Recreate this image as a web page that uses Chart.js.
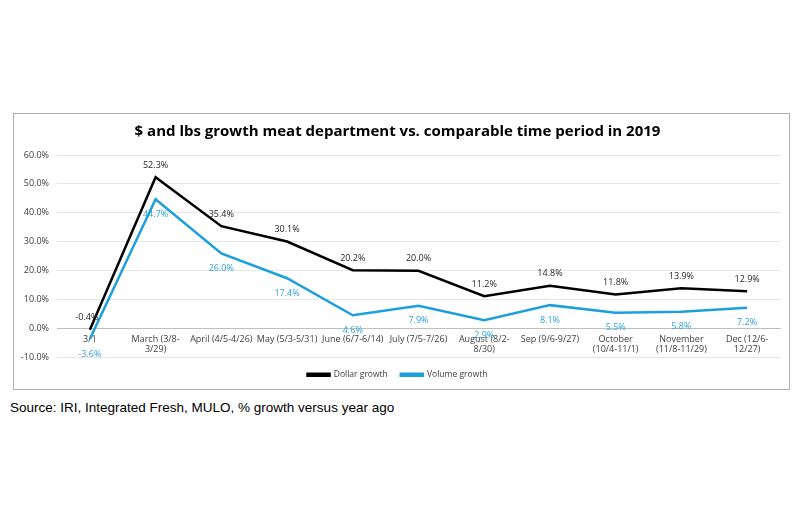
<!DOCTYPE html>
<html><head><meta charset="utf-8">
<script src="https://cdn.jsdelivr.net/npm/chart.js@4/dist/chart.umd.min.js"></script>
<style>
html,body{margin:0;padding:0;background:#fff;width:800px;height:528px;overflow:hidden;}
#box{position:absolute;left:13px;top:113px;width:775px;height:275px;border:1px solid #b0b0b0;background:#fff;}
#src{position:absolute;left:10px;top:400px;font-family:"Liberation Sans",Arial,sans-serif;font-size:13.5px;color:#000;}
</style></head>
<body>
<div id="box"><canvas id="c" width="775" height="275"></canvas></div>
<div id="src">Source: IRI, Integrated Fresh, MULO, % growth versus year ago</div>
<script>
const categories = ["3/1", ["March (3/8-","3/29)"], "April (4/5-4/26)", "May (5/3-5/31)", "June (6/7-6/14)", "July (7/5-7/26)", ["August (8/2-","8/30)"], "Sep (9/6-9/27)", ["October","(10/4-11/1)"], ["November","(11/8-11/29)"], ["Dec (12/6-","12/27)"]];
const dollarGrowth = [-0.4, 52.3, 35.4, 30.1, 20.2, 20.0, 11.2, 14.8, 11.8, 13.9, 12.9];
const volumeGrowth = [-3.6, 44.7, 26.0, 17.4, 4.6, 7.9, 2.9, 8.1, 5.5, 5.8, 7.2];
const yTicks = [-10, 0, 10, 20, 30, 40, 50, 60];

const FONT = '"Open Sans","Liberation Sans",sans-serif';
const labelPlugin = {
  id: 'labels',
  afterDatasetsDraw(chart) {
    const ctx = chart.ctx;
    ctx.save();
    ctx.font = '9px ' + FONT;
    ctx.textAlign = 'center';
    ctx.textBaseline = 'middle';
    chart.data.datasets.forEach((ds, i) => {
      const meta = chart.getDatasetMeta(i);
      meta.data.forEach((pt, j) => {
        const v = ds.data[j];
        ctx.fillStyle = i === 0 ? '#262626' : '#2ea3dc';
        const dy = i === 0 ? -12 : 15;
        ctx.fillText(v.toFixed(1) + '%', pt.x - (i===0 && j===0 ? 3 : 0), pt.y + dy);
      });
    });
    ctx.restore();
  }
};

new Chart(document.getElementById('c'), {
  type: 'line',
  data: {
    labels: categories,
    datasets: [
      { label: 'Dollar growth', data: dollarGrowth, borderColor: '#000000', backgroundColor: '#000000', borderWidth: 2.5, pointRadius: 0, tension: 0 },
      { label: 'Volume growth', data: volumeGrowth, borderColor: '#1ca0dd', backgroundColor: '#1ca0dd', borderWidth: 2.5, pointRadius: 0, tension: 0 }
    ]
  },
  options: {
    responsive: false,
    animation: false,
    layout: { padding: { left: 1, right: 9, top: 2, bottom: 0 } },
    plugins: {
      title: { display: true, text: '$ and lbs growth meat department vs. comparable time period in 2019', color: '#000', font: { family: FONT, size: 15, weight: 'bold' }, padding: { top: 7, bottom: 14 } },
      legend: { position: 'bottom', labels: { color: '#404040', font: { family: FONT, size: 8.5 }, boxWidth: 22, boxHeight: 2, padding: 13 } },
      tooltip: { enabled: false }
    },
    scales: {
      x: {
        position: { y: 0 },
        offset: true,
        grid: { display: false, drawTicks: false, offset: true },
        border: { display: true, color: '#bfbfbf', width: 1 },
        ticks: { color: '#404040', font: { family: FONT, size: 9 }, maxRotation: 0, autoSkip: false, padding: 5 }
      },
      y: {
        min: -10, max: 60,
        afterFit(s) { s.width = 42; },
        afterBuildTicks(s) { s.ticks = yTicks.map(v => ({ value: v })); },
        grid: { color: '#e6e6e6', drawTicks: false },
        border: { display: false },
        ticks: { color: '#404040', font: { family: FONT, size: 9 }, padding: 8, callback: v => v.toFixed(1) + '%' }
      }
    }
  },
  plugins: [labelPlugin]
});
</script>
</body></html>
